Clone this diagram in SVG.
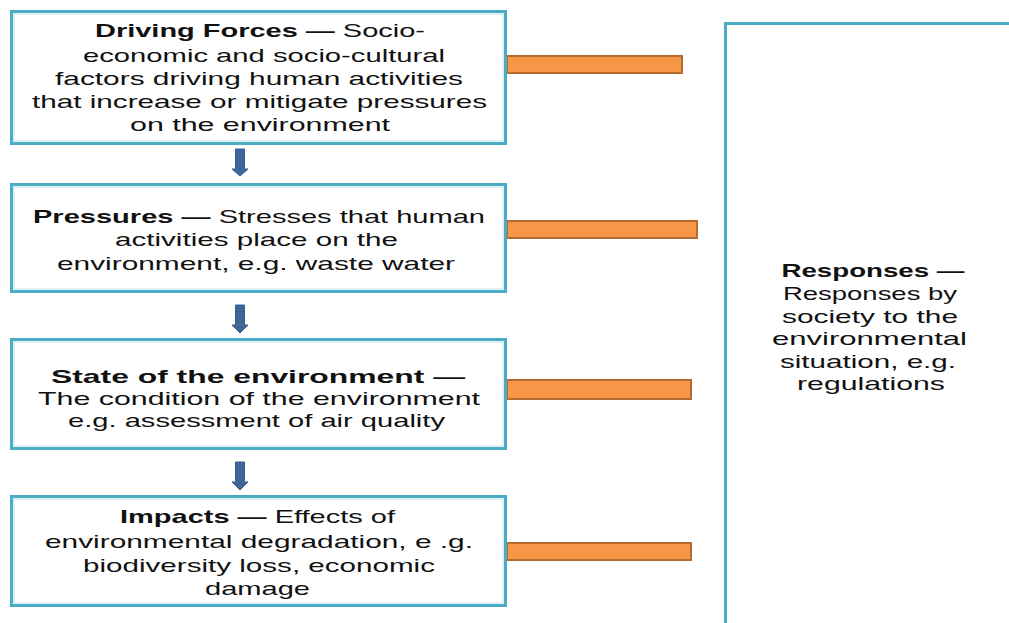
<svg xmlns="http://www.w3.org/2000/svg" width="1009" height="623" viewBox="0 0 1009 623">
<style>
.box{fill:#ffffff;stroke:#4BACC6;stroke-width:3}
.inner{fill:none;stroke:#C2E3EC;stroke-width:1}
.bar{fill:#F79646;stroke:#B46C32;stroke-width:2}
.arrow{fill:#3F6699;stroke:#385D8A;stroke-width:1}
.t{font-family:"Liberation Sans",Arial,sans-serif;font-size:19px;fill:#111111;text-anchor:middle}
.b{font-weight:bold}
</style>
<rect width="1009" height="623" fill="#ffffff"/>
<g id="connectors">
<rect class="bar" x="507" y="56" width="175" height="17"/>
<rect class="bar" x="507" y="221" width="190" height="17"/>
<rect class="bar" x="507" y="380" width="184" height="19"/>
<rect class="bar" x="507" y="543" width="184" height="17"/>
<path class="arrow" d="M235.5,149 H244.5 V169 H248 L240,176 L232,169 H235.5 Z"/>
<path class="arrow" d="M235.5,305 H244.5 V325 H248 L240,333 L232,325 H235.5 Z"/>
<path class="arrow" d="M235.5,462 H244.5 V482 H248 L240,490 L232,482 H235.5 Z"/>
</g>
<g id="responses">
<rect class="box" x="725.5" y="23.5" width="300" height="620"/>
<text class="t b" x="873" y="277" textLength="183" lengthAdjust="spacingAndGlyphs">Responses —</text>
<text class="t" x="870" y="300" textLength="174" lengthAdjust="spacingAndGlyphs">Responses by</text>
<text class="t" x="870" y="323" textLength="176" lengthAdjust="spacingAndGlyphs">society to the</text>
<text class="t" x="869.5" y="345" textLength="195" lengthAdjust="spacingAndGlyphs">environmental</text>
<text class="t" x="868" y="368" textLength="176" lengthAdjust="spacingAndGlyphs">situation, e.g.</text>
<text class="t" x="871" y="390" textLength="148" lengthAdjust="spacingAndGlyphs">regulations</text>
</g>
<g id="driving-forces">
<rect class="box" x="11.5" y="11.5" width="494" height="132"/>
<rect class="inner" x="14" y="14" width="489" height="127"/>
<text class="t" x="260" y="37" textLength="330" lengthAdjust="spacingAndGlyphs"><tspan class="b">Driving Forces —</tspan> Socio-</text>
<text class="t" x="264" y="62" textLength="362" lengthAdjust="spacingAndGlyphs">economic and socio-cultural</text>
<text class="t" x="259" y="85" textLength="408" lengthAdjust="spacingAndGlyphs">factors driving human activities</text>
<text class="t" x="259.5" y="108" textLength="455" lengthAdjust="spacingAndGlyphs">that increase or mitigate pressures</text>
<text class="t" x="260" y="131" textLength="260" lengthAdjust="spacingAndGlyphs">on the environment</text>
</g>
<g id="pressures">
<rect class="box" x="11.5" y="184.5" width="494" height="107"/>
<rect class="inner" x="14" y="187" width="489" height="102"/>
<text class="t" x="259" y="223" textLength="452" lengthAdjust="spacingAndGlyphs"><tspan class="b">Pressures —</tspan> Stresses that human</text>
<text class="t" x="256.5" y="246" textLength="283" lengthAdjust="spacingAndGlyphs">activities place on the</text>
<text class="t" x="256" y="270" textLength="398" lengthAdjust="spacingAndGlyphs">environment, e.g. waste water</text>
</g>
<g id="state">
<rect class="box" x="11.5" y="339.5" width="494" height="109"/>
<rect class="inner" x="14" y="342" width="489" height="104"/>
<text class="t b" x="258" y="383" textLength="414" lengthAdjust="spacingAndGlyphs">State of the environment —</text>
<text class="t" x="259" y="405" textLength="442" lengthAdjust="spacingAndGlyphs">The condition of the environment</text>
<text class="t" x="256.5" y="427" textLength="377" lengthAdjust="spacingAndGlyphs">e.g. assessment of air quality</text>
</g>
<g id="impacts">
<rect class="box" x="11.5" y="496.5" width="494" height="109"/>
<rect class="inner" x="14" y="499" width="489" height="104"/>
<text class="t" x="257.5" y="523" textLength="275" lengthAdjust="spacingAndGlyphs"><tspan class="b">Impacts —</tspan> Effects of</text>
<text class="t" x="259" y="548" textLength="428" lengthAdjust="spacingAndGlyphs">environmental degradation, e .g.</text>
<text class="t" x="259" y="572" textLength="352" lengthAdjust="spacingAndGlyphs">biodiversity loss, economic</text>
<text class="t" x="257.5" y="595" textLength="105" lengthAdjust="spacingAndGlyphs">damage</text>
</g>
</svg>
